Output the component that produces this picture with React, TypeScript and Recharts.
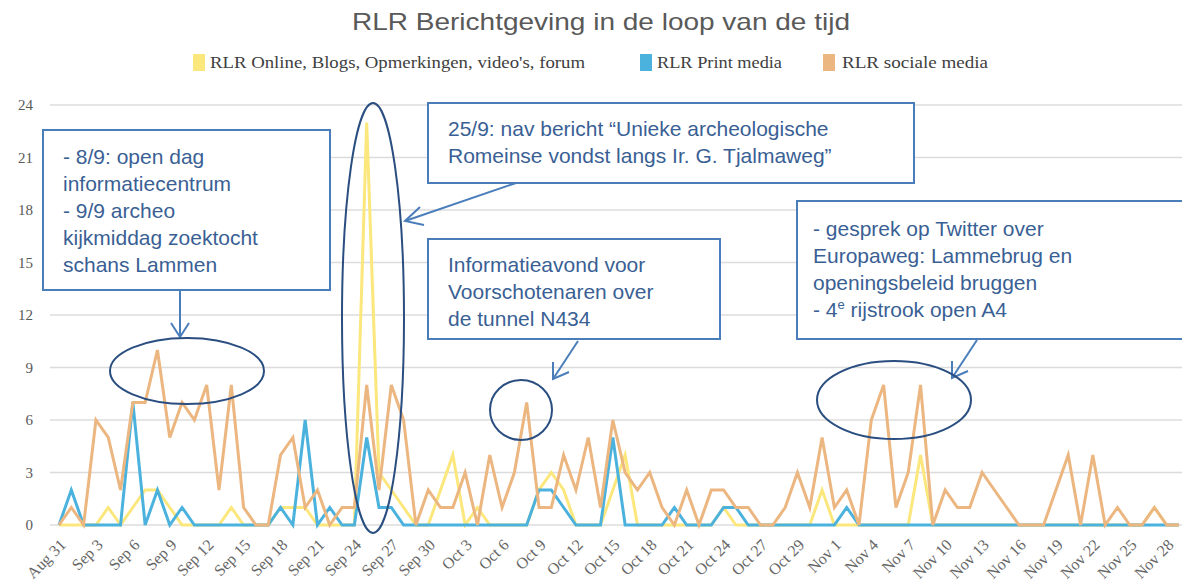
import React from "react";
import { CartesianGrid, Line, LineChart, XAxis, YAxis } from "recharts";

// one category per day (Oct 27 shows up twice: DST change)
const dates = [
	"Aug 31", "Sep 1", "Sep 2", "Sep 3", "Sep 4", "Sep 5", "Sep 6", "Sep 7", "Sep 8", "Sep 9",
	"Sep 10", "Sep 11", "Sep 12", "Sep 13", "Sep 14", "Sep 15", "Sep 16", "Sep 17", "Sep 18", "Sep 19",
	"Sep 20", "Sep 21", "Sep 22", "Sep 23", "Sep 24", "Sep 25", "Sep 26", "Sep 27", "Sep 28", "Sep 29",
	"Sep 30", "Oct 1", "Oct 2", "Oct 3", "Oct 4", "Oct 5", "Oct 6", "Oct 7", "Oct 8", "Oct 9",
	"Oct 10", "Oct 11", "Oct 12", "Oct 13", "Oct 14", "Oct 15", "Oct 16", "Oct 17", "Oct 18", "Oct 19",
	"Oct 20", "Oct 21", "Oct 22", "Oct 23", "Oct 24", "Oct 25", "Oct 26", "Oct 27", "Oct 27 ", "Oct 28",
	"Oct 29", "Oct 30", "Oct 31", "Nov 1", "Nov 2", "Nov 3", "Nov 4", "Nov 5", "Nov 6", "Nov 7",
	"Nov 8", "Nov 9", "Nov 10", "Nov 11", "Nov 12", "Nov 13", "Nov 14", "Nov 15", "Nov 16", "Nov 17",
	"Nov 18", "Nov 19", "Nov 20", "Nov 21", "Nov 22", "Nov 23", "Nov 24", "Nov 25", "Nov 26", "Nov 27",
	"Nov 28", "Nov 29",
];

const onlineBlogs = [
	0, 0, 0, 0, 1, 0, 1, 2, 2, 1,
	0, 0, 0, 0, 1, 0, 0, 0, 1, 1,
	1, 0, 0, 0, 0, 23, 3, 2, 1, 0,
	0, 2, 4, 0, 1, 0, 0, 0, 0, 2,
	3, 2, 0, 0, 0, 2, 4, 0, 0, 0,
	0, 0, 0, 0, 1, 0, 0, 0, 0, 0,
	0, 0, 2, 0, 0, 0, 0, 0, 0, 0,
	4, 0, 0, 0, 0, 0, 0, 0, 0, 0,
	0, 0, 0, 0, 0, 0, 0, 0, 0, 1,
	0, 0,
];

const printMedia = [
	0, 2, 0, 0, 0, 0, 7, 0, 2, 0,
	1, 0, 0, 0, 0, 0, 0, 0, 1, 0,
	6, 0, 1, 0, 0, 5, 1, 1, 0, 0,
	0, 0, 0, 0, 0, 0, 0, 0, 0, 2,
	2, 1, 0, 0, 0, 5, 0, 0, 0, 0,
	1, 0, 0, 0, 1, 1, 0, 0, 0, 0,
	0, 0, 0, 0, 1, 0, 0, 0, 0, 0,
	0, 0, 0, 0, 0, 0, 0, 0, 0, 0,
	0, 0, 0, 0, 0, 0, 0, 0, 0, 0,
	0, 0,
];

const socialMedia = [
	0, 1, 0, 6, 5, 2, 7, 7, 10, 5,
	7, 6, 8, 2, 8, 1, 0, 0, 4, 5,
	1, 2, 0, 1, 1, 8, 2, 8, 6, 0,
	2, 1, 1, 3, 0, 4, 1, 3, 7, 1,
	1, 4, 2, 5, 1, 6, 3, 2, 3, 1,
	0, 2, 0, 2, 2, 1, 1, 0, 0, 1,
	3, 1, 5, 1, 2, 0, 6, 8, 1, 3,
	8, 0, 2, 1, 1, 3, 2, 1, 0, 0,
	0, 2, 4, 0, 4, 0, 1, 0, 0, 1,
	0, 0,
];

const yTicks = [0, 3, 6, 9, 12, 15, 18, 21, 24];

const data = dates.map((date, i) => ({
	date,
	online: onlineBlogs[i],
	print: printMedia[i],
	social: socialMedia[i],
}));

const YELLOW = "#fbe77c";
const BLUE = "#4bb2dd";
const ORANGE = "#ecb680";
const BOX = "#4a7ebb";
const RING = "#2a4e80";
const NOTE = "#3a5f94";
const SERIF = "'Liberation Serif', 'Times New Roman', serif";
const SANS = "'Liberation Sans', Arial, sans-serif";

function DateTick({ x, y, payload }: any) {
	const tx = x + 4;
	const ty = y + 9;
	return (
		<text
			x={tx}
			y={ty}
			transform={`rotate(-45 ${tx} ${ty})`}
			textAnchor="end"
			dominantBaseline="central"
			fontFamily={SERIF}
			fontSize={16}
			fill="#666"
		>
			{payload.value.trim()}
		</text>
	);
}

function Overlay() {
	const note = { fontFamily: SANS, fontSize: 21, fill: NOTE };
	return (
		<svg
			width={1182}
			height={587}
			style={{ position: "absolute", left: 0, top: 0, pointerEvents: "none" }}
		>
			<text x={601} y={30} textAnchor="middle" fontFamily={SANS} fontSize={24} fill="#595959" textLength={498} lengthAdjust="spacingAndGlyphs">
				RLR Berichtgeving in de loop van de tijd
			</text>

			<rect x={193} y={54} width={12} height={17} fill={YELLOW} />
			<text x={210} y={68} fontFamily={SERIF} fontSize={17} fill="#404040" textLength={375} lengthAdjust="spacingAndGlyphs">
				RLR Online, Blogs, Opmerkingen, video's, forum
			</text>
			<rect x={640} y={54} width={12} height={17} fill={BLUE} />
			<text x={657} y={68} fontFamily={SERIF} fontSize={17} fill="#404040" textLength={125} lengthAdjust="spacingAndGlyphs">
				RLR Print media
			</text>
			<rect x={823} y={54} width={12} height={17} fill={ORANGE} />
			<text x={842} y={68} fontFamily={SERIF} fontSize={17} fill="#404040" textLength={146} lengthAdjust="spacingAndGlyphs">
				RLR sociale media
			</text>

			{/* note 1 */}
			<rect x={43} y={130} width={287} height={160} fill="#fff" stroke={BOX} strokeWidth={2} />
			<text {...note}>
				<tspan x={63} y={164}>- 8/9: open dag</tspan>
				<tspan x={63} y={191}>informatiecentrum</tspan>
				<tspan x={63} y={218}>- 9/9 archeo</tspan>
				<tspan x={63} y={245}>kijkmiddag zoektocht</tspan>
				<tspan x={63} y={272}>schans Lammen</tspan>
			</text>
			<line x1={180} y1={290} x2={180} y2={337} stroke={BOX} strokeWidth={2} />
			<polyline points="171,323 180,337 189,323" fill="none" stroke={BOX} strokeWidth={2} />
			<ellipse cx={187} cy={371} rx={77} ry={33} fill="none" stroke={RING} strokeWidth={2} />

			{/* note 2 */}
			<rect x={428} y={103} width={486} height={80} fill="#fff" stroke={BOX} strokeWidth={2} />
			<text {...note}>
				<tspan x={448} y={136}>25/9: nav bericht “Unieke archeologische</tspan>
				<tspan x={448} y={163}>Romeinse vondst langs Ir. G. Tjalmaweg”</tspan>
			</text>
			<line x1={516} y1={183} x2={405} y2={221} stroke={BOX} strokeWidth={2} />
			<polyline points="420,207 405,221 424,225" fill="none" stroke={BOX} strokeWidth={2} />
			<ellipse cx={373} cy={318} rx={31} ry={215} fill="none" stroke={RING} strokeWidth={2} />

			{/* note 3 */}
			<rect x={428} y={239} width={292} height={100} fill="#fff" stroke={BOX} strokeWidth={2} />
			<text {...note}>
				<tspan x={448} y={272}>Informatieavond voor</tspan>
				<tspan x={448} y={299}>Voorschotenaren over</tspan>
				<tspan x={448} y={326}>de tunnel N434</tspan>
			</text>
			<line x1={578} y1={341} x2={553} y2={379} stroke={BOX} strokeWidth={2} />
			<polyline points="553,362 553,379 569,372" fill="none" stroke={BOX} strokeWidth={2} />
			<ellipse cx={521} cy={410} rx={31} ry={30} fill="none" stroke={RING} strokeWidth={2} />

			{/* note 4 */}
			<rect x={797} y={201} width={400} height={138} fill="#fff" stroke={BOX} strokeWidth={2} />
			<text {...note}>
				<tspan x={813} y={236}>- gesprek op Twitter over</tspan>
				<tspan x={813} y={263}>Europaweg: Lammebrug en</tspan>
				<tspan x={813} y={290}>openingsbeleid bruggen</tspan>
				<tspan x={813} y={317}>- 4</tspan>
				<tspan fontSize={13} dy={-8}>e</tspan>
				<tspan dy={8}> rijstrook open A4</tspan>
			</text>
			<line x1={977} y1={340} x2={952} y2={378} stroke={BOX} strokeWidth={2} />
			<polyline points="952,361 952,378 968,371" fill="none" stroke={BOX} strokeWidth={2} />
			<ellipse cx={894} cy={400} rx={77} ry={39} fill="none" stroke={RING} strokeWidth={2} />
		</svg>
	);
}

export default function App() {
	return (
		<div style={{ position: "absolute", left: 0, top: 0, width: 1182, height: 587, background: "#fff", overflow: "hidden" }}>
			<LineChart
				width={1182}
				height={587}
				data={data}
				margin={{ top: 105, right: 0, left: 0, bottom: 0 }}
			>
				<CartesianGrid vertical={false} stroke="#dcdcdc" strokeWidth={1.5} />
				<XAxis
					dataKey="date"
					interval={2}
					height={62}
					padding={{ left: 9, right: 3 }}
					axisLine={false}
					tickLine={false}
					tickSize={0}
					tickMargin={8}
					tick={<DateTick />}
				/>
				<YAxis
					width={50}
					domain={[0, 24]}
					ticks={yTicks}
					axisLine={false}
					tickLine={false}
					tickSize={0}
					tickMargin={17}
					tick={{ fontFamily: SERIF, fontSize: 15, fill: "#595959" }}
				/>
				<Line type="linear" dataKey="online" stroke={YELLOW} strokeWidth={3} dot={false} isAnimationActive={false} />
				<Line type="linear" dataKey="print" stroke={BLUE} strokeWidth={3} dot={false} isAnimationActive={false} />
				<Line type="linear" dataKey="social" stroke={ORANGE} strokeWidth={3} dot={false} isAnimationActive={false} />
			</LineChart>
			<Overlay />
		</div>
	);
}
